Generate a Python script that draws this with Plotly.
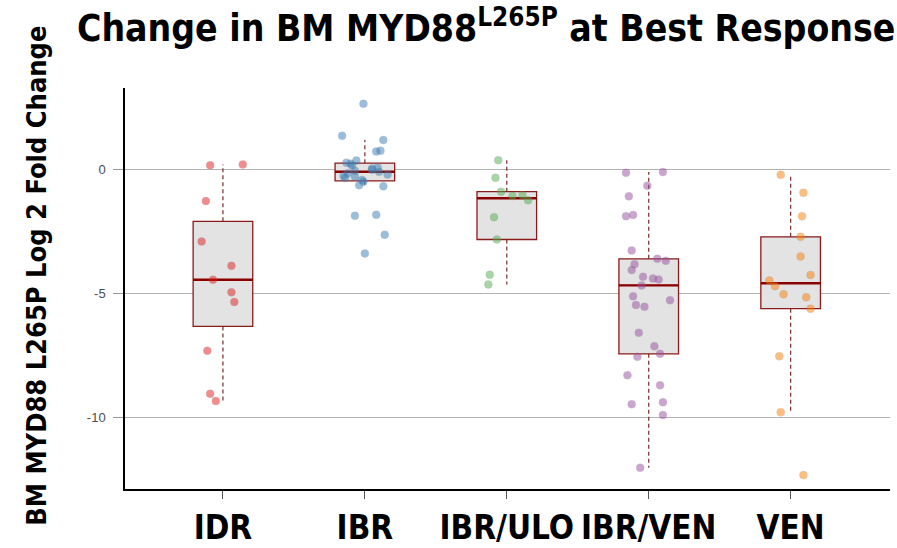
import numpy as np
import plotly.graph_objects as go

# Treatment groups and their log2 fold change values at best response
categories = ["IDR", "IBR", "IBR/ULO", "IBR/VEN", "VEN"]

idr = [0.15, 0.19, -1.29, -2.92, -3.90, -4.46, -4.97, -5.36, -7.33, -9.06, -9.35]
ibr = [-3.40, -2.65, -1.88, -1.84, -0.69, -0.65, -0.51, -0.44, -0.36, -0.31, -0.28,
       -0.22, -0.17, -0.11, -0.07, -0.03, 0.02, 0.06, 0.14, 0.22, 0.26, 0.35, 0.71,
       0.74, 1.17, 1.34, 2.63]
ibr_ulo = [0.36, -0.35, -0.91, -1.09, -1.05, -1.26, -1.94, -2.84, -4.26, -4.65]
ibr_ven = [-0.15, -0.12, -0.67, -1.10, -1.90, -1.85, -3.28, -3.62, -3.70, -3.84,
           -4.07, -4.34, -4.41, -4.45, -4.69, -5.13, -5.29, -5.48, -5.55, -6.60,
           -7.14, -7.57, -7.45, -8.31, -8.72, -9.48, -9.40, -9.92, -12.04]
ven = [-0.23, -0.95, -1.90, -2.73, -3.52, -4.27, -4.49, -4.72, -5.05, -5.17, -5.63,
       -7.55, -9.81, -12.34]

# Horizontal jitter of each point (category units), same order as the values
idr_jit = [-0.09, 0.14, -0.12, -0.15, 0.06, -0.07, 0.06, 0.08, -0.11, -0.09, -0.05]
ibr_jit = [0.0, 0.14, -0.07, 0.08, 0.13, -0.04, -0.01, -0.02, -0.14, -0.07, -0.15,
           0.16, -0.12, 0.10, -0.07, 0.05, 0.05, 0.09, -0.09, -0.10, -0.13, -0.06,
           0.08, 0.11, 0.13, -0.16, -0.01]
ibr_ulo_jit = [-0.06, -0.08, -0.04, 0.04, 0.11, 0.15, -0.09, -0.07, -0.12, -0.13]
ibr_ven_jit = [-0.16, 0.10, -0.01, -0.14, -0.16, -0.11, -0.12, 0.06, 0.12, -0.10,
               -0.12, -0.04, 0.03, 0.07, -0.05, -0.11, 0.15, -0.09, -0.03, -0.07,
               0.04, -0.08, 0.08, -0.15, 0.08, -0.12, 0.10, 0.10, -0.06]
ven_jit = [-0.07, 0.09, 0.08, 0.07, 0.07, 0.14, -0.15, -0.11, -0.05, 0.11, 0.14,
           -0.08, -0.07, 0.09]

groups = [idr, ibr, ibr_ulo, ibr_ven, ven]
jitters = [idr_jit, ibr_jit, ibr_ulo_jit, ibr_ven_jit, ven_jit]
point_colors = ["#E41A1C", "#377EB8", "#4DAF4A", "#984EA3", "#FF7F00"]

BOX_LINE = "#8B1A1A"
MEDIAN_LINE = "#8B0000"
WHISKER = "#7A2A2A"
BOX_FILL = "#E3E3E3"
BOX_HALF = 0.21
COND = "DejaVu Sans Condensed, Liberation Sans Narrow, Arial Narrow, Arial"


def tukey_stats(vals):
    """Median, Tukey hinges and whisker ends (1.5 IQR rule)."""
    v = np.sort(np.asarray(vals, dtype=float))
    n = len(v)
    med = float(np.median(v))
    half = (n + 1) // 2
    lower = v[:half]
    upper = v[n - half:]
    q1 = float(np.median(lower))
    q3 = float(np.median(upper))
    iqr = q3 - q1
    lo_w = float(v[v >= q1 - 1.5 * iqr].min())
    hi_w = float(v[v <= q3 + 1.5 * iqr].max())
    return q1, med, q3, lo_w, hi_w


fig = go.Figure()

for i, vals in enumerate(groups):
    q1, med, q3, lo_w, hi_w = tukey_stats(vals)
    # dashed whiskers
    fig.add_trace(go.Scatter(
        x=[i, i, None, i, i], y=[q3, hi_w, None, q1, lo_w],
        mode="lines", line=dict(color=WHISKER, width=1.2, dash="4px,3px"),
        hoverinfo="skip", showlegend=False))
    # box body
    fig.add_trace(go.Box(
        x=[i], q1=[q1], median=[med], q3=[q3], lowerfence=[q1], upperfence=[q3],
        width=2 * BOX_HALF, fillcolor=BOX_FILL,
        line=dict(color=BOX_LINE, width=1.3), whiskerwidth=0,
        boxpoints=False, showlegend=False))
    # emphasised median
    fig.add_trace(go.Scatter(
        x=[i - BOX_HALF, i + BOX_HALF], y=[med, med], mode="lines",
        line=dict(color=MEDIAN_LINE, width=2.4), hoverinfo="skip", showlegend=False))

for i, (vals, jit) in enumerate(zip(groups, jitters)):
    fig.add_trace(go.Scatter(
        x=[i + j for j in jit], y=vals, mode="markers",
        marker=dict(color=point_colors[i], size=8, opacity=0.5,
                    line=dict(width=0.6, color="rgba(120,120,120,0.5)")),
        showlegend=False))

fig.update_layout(
    width=897, height=548,
    margin=dict(l=125, r=7, t=88, b=59),
    paper_bgcolor="white", plot_bgcolor="white",
    title=dict(
        text="Change in BM MYD88<sup>L265P</sup> at Best Response",
        x=0.542, xref="container", xanchor="center",
        y=0.948, yref="container", yanchor="middle",
        font=dict(family=COND, size=37, color="black", weight="bold")),
    xaxis=dict(
        range=[-0.69, 4.70], tickvals=list(range(len(categories))), ticktext=categories,
        showgrid=False, zeroline=False, showline=True, linecolor="black", linewidth=1.5,
        ticks="outside", ticklen=8, tickcolor="#555555", tickwidth=1,
        ticklabelstandoff=1, tickangle=0, automargin=False,
        tickfont=dict(family=COND, size=33, color="black", weight="bold")),
    yaxis=dict(
        range=[-12.9, 3.27], tickvals=[-10, -5, 0], ticktext=["-10", "-5", "0"],
        showgrid=True, gridcolor="#B3B3B3", gridwidth=1.2, zeroline=False,
        showline=True, linecolor="black", linewidth=1.5, automargin=False,
        ticks="outside", ticklen=10, tickcolor="#9A9A9A", tickwidth=1.2,
        ticklabelstandoff=5,
        tickfont=dict(family="Liberation Sans, Arial", size=13, color="#4D4D4D")),
    annotations=[dict(
        text="BM MYD88 L265P Log 2 Fold Change", textangle=-90,
        xref="paper", yref="paper", x=-0.115, y=0.532,
        xanchor="center", yanchor="middle", showarrow=False,
        font=dict(family=COND, size=27, color="black", weight="bold"))],
)

fig.write_html("out.html")
